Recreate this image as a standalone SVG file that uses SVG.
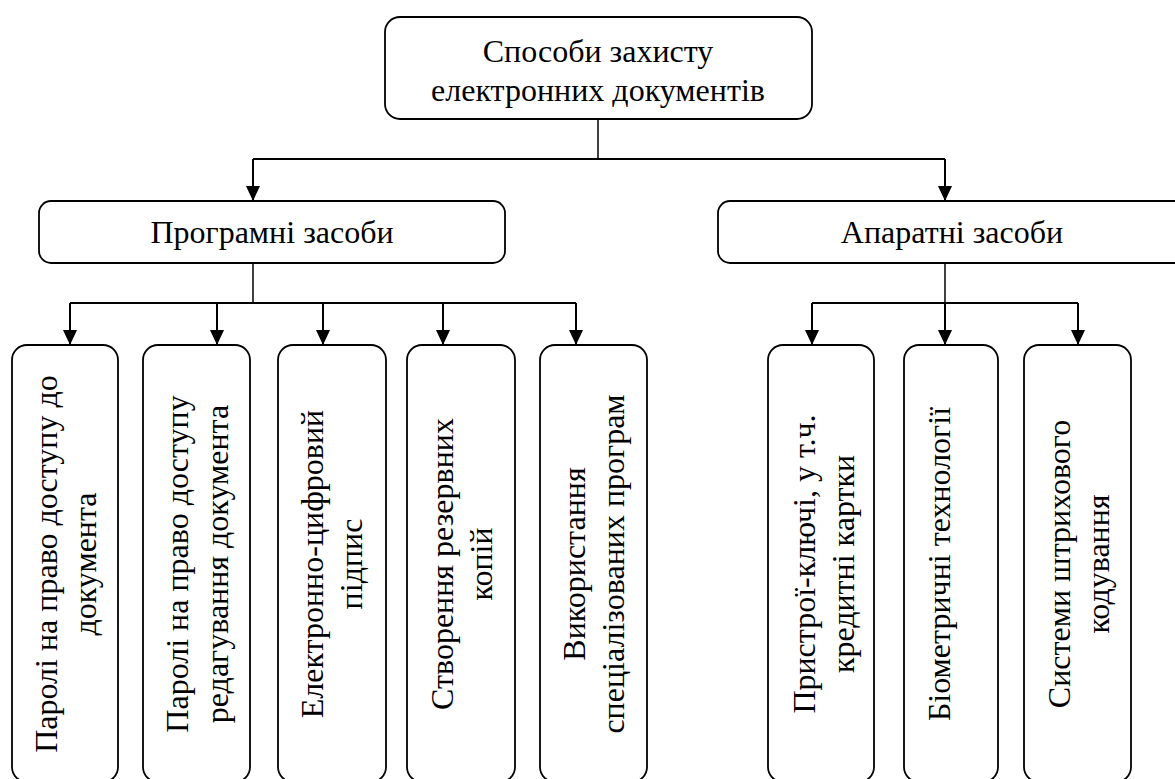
<svg xmlns="http://www.w3.org/2000/svg" width="1175" height="779" viewBox="0 0 1175 779">
<style>
  .box { fill: #ffffff; stroke: #000000; stroke-width: 1.8; }
  .t { font-family: 'Liberation Serif', 'Times New Roman', serif; font-size: 32px; fill: #000000; text-anchor: middle; }
  .ln { fill: none; stroke: #000000; stroke-width: 2; }
  .stem { fill: none; stroke: #000000; stroke-width: 1.5; }
  .arr { fill: none; stroke: #000000; stroke-width: 2; marker-end: url(#ah); }
</style>
<defs>
  <marker id="ah" markerUnits="userSpaceOnUse" markerWidth="15" markerHeight="14" refX="15" refY="7" orient="auto">
    <path d="M0,0 L15,7 L0,14 Z" fill="#000000"/>
  </marker>
</defs>
<rect width="1175" height="779" fill="#ffffff"/>

<g id="connectors">
  <path class="stem" d="M598,119 V159"/>
  <path class="ln" d="M253,159 H945"/>
  <path class="arr" d="M253,159 V201"/>
  <path class="arr" d="M945,159 V201"/>
  <path class="stem" d="M253,263 V303"/>
  <path class="ln" d="M70,303 H576"/>
  <path class="arr" d="M70,303 V345"/>
  <path class="arr" d="M217,303 V345"/>
  <path class="arr" d="M323,303 V345"/>
  <path class="arr" d="M443,303 V345"/>
  <path class="arr" d="M576,303 V345"/>
  <path class="stem" d="M945,263 V303"/>
  <path class="ln" d="M812,303 H1078"/>
  <path class="arr" d="M812,303 V345"/>
  <path class="arr" d="M945,303 V345"/>
  <path class="arr" d="M1078,303 V345"/>
</g>

<g id="root">
  <rect class="box" x="385" y="17" width="427" height="102" rx="15"/>
  <text class="t" x="598" y="62">Способи захисту</text>
  <text class="t" x="598" y="101">електронних документів</text>
</g>

<g id="software">
  <rect class="box" x="39" y="201" width="466" height="62" rx="12"/>
  <text class="t" x="272" y="243">Програмні засоби</text>
</g>

<g id="hardware">
  <rect class="box" x="718" y="201" width="470" height="62" rx="12"/>
  <text class="t" x="952" y="243">Апаратні засоби</text>
</g>

<g id="s1">
  <rect class="box" x="12" y="345" width="106" height="437" rx="15"/>
  <text class="t" transform="rotate(-90)" x="-564" y="57">Паролі на право доступу до<tspan x="-564" dy="39">документа</tspan></text>
</g>

<g id="s2">
  <rect class="box" x="143" y="345" width="107" height="437" rx="15"/>
  <text class="t" transform="rotate(-90)" x="-564" y="188">Паролі на право доступу<tspan x="-564" dy="40">редагування документа</tspan></text>
</g>

<g id="s3">
  <rect class="box" x="278" y="345" width="108" height="437" rx="15"/>
  <text class="t" transform="rotate(-90)" x="-564" y="323">Електронно-цифровий<tspan x="-564" dy="39">підпис</tspan></text>
</g>

<g id="s4">
  <rect class="box" x="407" y="345" width="108" height="437" rx="15"/>
  <text class="t" transform="rotate(-90)" x="-564" y="453">Створення резервних<tspan x="-564" dy="39">копій</tspan></text>
</g>

<g id="s5">
  <rect class="box" x="540" y="345" width="107" height="437" rx="15"/>
  <text class="t" transform="rotate(-90)" x="-564" y="585">Використання<tspan x="-564" dy="39">спеціалізованих програм</tspan></text>
</g>

<g id="h1">
  <rect class="box" x="768" y="345" width="106" height="437" rx="15"/>
  <text class="t" transform="rotate(-90)" x="-564" y="815">Пристрої-ключі, у т.ч.<tspan x="-564" dy="39">кредитні картки</tspan></text>
</g>

<g id="h2">
  <rect class="box" x="904" y="345" width="94" height="437" rx="15"/>
  <text class="t" transform="rotate(-90)" x="-564" y="950">Біометричні технології</text>
</g>

<g id="h3">
  <rect class="box" x="1024" y="345" width="107" height="437" rx="15"/>
  <text class="t" transform="rotate(-90)" x="-564" y="1070">Системи штрихового<tspan x="-564" dy="39">кодування</tspan></text>
</g>
</svg>
